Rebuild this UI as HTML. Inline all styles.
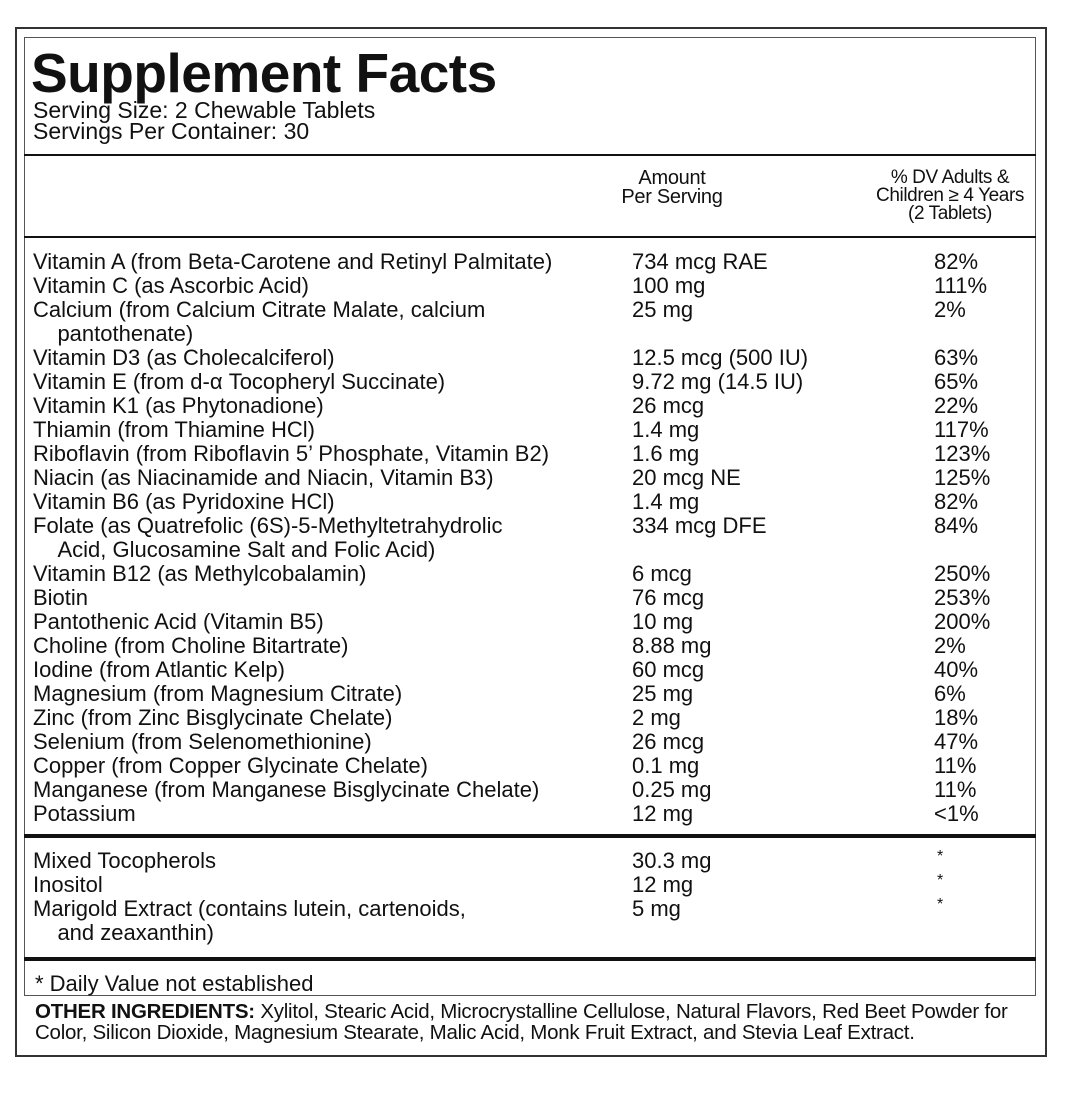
<!DOCTYPE html><html><head><style>
body{margin:0;width:1074px;height:1094px;background:#fff;position:relative;font-family:"Liberation Sans",Arial,sans-serif;color:#111;overflow:hidden}
.a{position:absolute;white-space:nowrap}
.ln{position:absolute;background:#111;left:24px;width:1012px}
.r{position:absolute;font-size:22px;line-height:24px;white-space:nowrap;letter-spacing:0px}
</style></head><body>
<div class="a" style="left:15px;top:27px;width:1028px;height:1026px;border:2px solid #333"></div>
<div class="a" style="left:24px;top:37px;width:1010px;height:957px;border:1.5px solid #555"></div>
<div class="a" style="left:31px;top:41px;font-size:55px;font-weight:bold;line-height:64px;letter-spacing:-0.5px">Supplement Facts</div>
<div class="a" style="left:33px;top:100px;font-size:23px;line-height:21px;letter-spacing:0px">Serving Size: 2 Chewable Tablets<br>Servings Per Container: 30</div>
<div class="ln" style="top:154px;height:2px"></div>
<div class="a" style="left:572px;width:200px;text-align:center;top:169px;font-size:20px;line-height:19px;letter-spacing:-0.3px">Amount<br>Per Serving</div>
<div class="a" style="left:850px;width:200px;text-align:center;top:169px;font-size:19px;line-height:18px;letter-spacing:-0.4px">% DV Adults &amp;<br>Children ≥ 4 Years<br>(2 Tablets)</div>
<div class="ln" style="top:236px;height:2px"></div>
<div class="r" style="left:33px;top:250px">Vitamin A (from Beta-Carotene and Retinyl Palmitate)<br>Vitamin C (as Ascorbic Acid)<br>Calcium (from Calcium Citrate Malate, calcium<br>&nbsp;&nbsp;&nbsp;&nbsp;pantothenate)<br>Vitamin D3 (as Cholecalciferol)<br>Vitamin E (from d-α Tocopheryl Succinate)<br>Vitamin K1 (as Phytonadione)<br>Thiamin (from Thiamine HCl)<br>Riboflavin (from Riboflavin 5’ Phosphate, Vitamin B2)<br>Niacin (as Niacinamide and Niacin, Vitamin B3)<br>Vitamin B6 (as Pyridoxine HCl)<br>Folate (as Quatrefolic (6S)-5-Methyltetrahydrolic<br>&nbsp;&nbsp;&nbsp;&nbsp;Acid, Glucosamine Salt and Folic Acid)<br>Vitamin B12 (as Methylcobalamin)<br>Biotin<br>Pantothenic Acid (Vitamin B5)<br>Choline (from Choline Bitartrate)<br>Iodine (from Atlantic Kelp)<br>Magnesium (from Magnesium Citrate)<br>Zinc (from Zinc Bisglycinate Chelate)<br>Selenium (from Selenomethionine)<br>Copper (from Copper Glycinate Chelate)<br>Manganese (from Manganese Bisglycinate Chelate)<br>Potassium</div>
<div class="r" style="left:632px;top:250px">734 mcg RAE<br>100 mg<br>25 mg<br>&nbsp;<br>12.5 mcg (500 IU)<br>9.72 mg (14.5 IU)<br>26 mcg<br>1.4 mg<br>1.6 mg<br>20 mcg NE<br>1.4 mg<br>334 mcg DFE<br>&nbsp;<br>6 mcg<br>76 mcg<br>10 mg<br>8.88 mg<br>60 mcg<br>25 mg<br>2 mg<br>26 mcg<br>0.1 mg<br>0.25 mg<br>12 mg</div>
<div class="r" style="left:934px;top:250px">82%<br>111%<br>2%<br>&nbsp;<br>63%<br>65%<br>22%<br>117%<br>123%<br>125%<br>82%<br>84%<br>&nbsp;<br>250%<br>253%<br>200%<br>2%<br>40%<br>6%<br>18%<br>47%<br>11%<br>11%<br>&lt;1%</div>
<div class="ln" style="top:834px;height:4px"></div>
<div class="r" style="left:33px;top:849px">Mixed Tocopherols<br>Inositol<br>Marigold Extract (contains lutein, cartenoids,<br>&nbsp;&nbsp;&nbsp;&nbsp;and zeaxanthin)</div>
<div class="r" style="left:632px;top:849px">30.3 mg<br>12 mg<br>5 mg</div>
<div class="r" style="left:937px;top:845px;font-size:16px">*<br>*<br>*</div>
<div class="ln" style="top:957px;height:4px"></div>
<div class="a" style="left:35px;top:972px;font-size:22px;line-height:24px;letter-spacing:0px">* Daily Value not established</div>
<div class="a" style="left:35px;top:1001px;font-size:20.5px;line-height:21px;letter-spacing:-0.25px"><b>OTHER INGREDIENTS:</b> Xylitol, Stearic Acid, Microcrystalline Cellulose, Natural Flavors, Red Beet Powder for<br>Color, Silicon Dioxide, Magnesium Stearate, Malic Acid, Monk Fruit Extract, and Stevia Leaf Extract.</div>
</body></html>
